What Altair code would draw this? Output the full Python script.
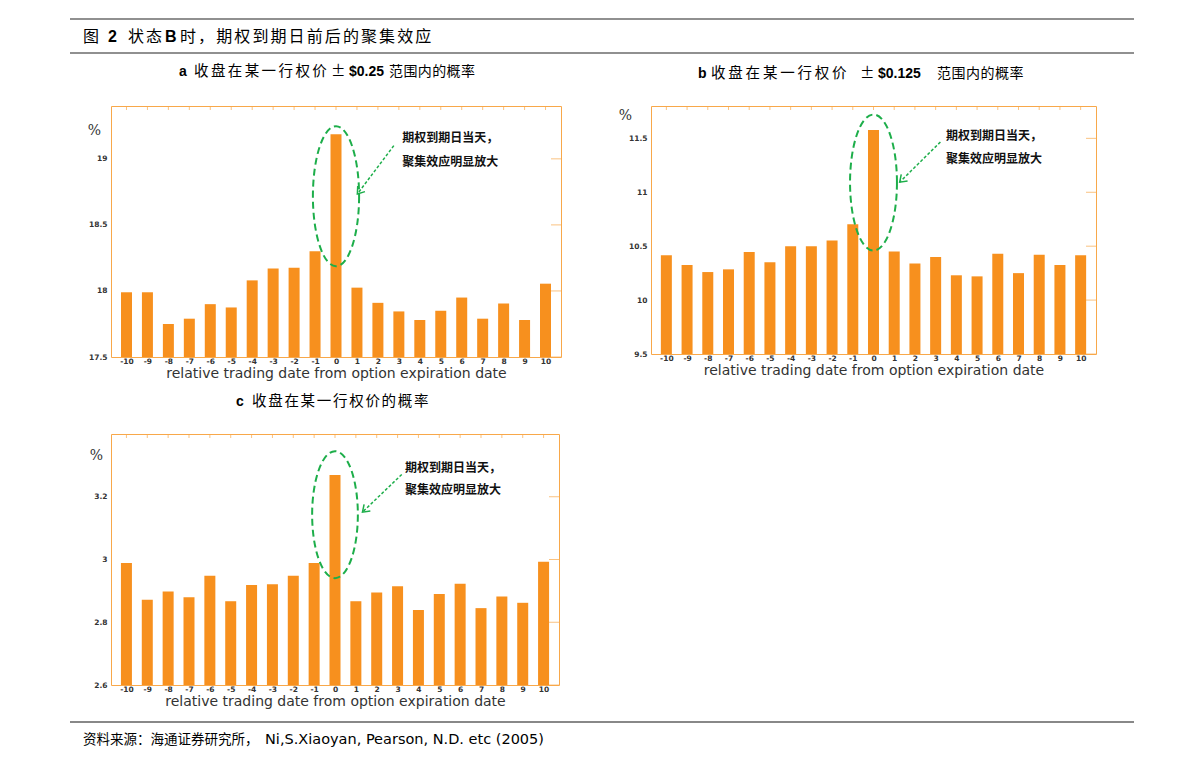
import altair as alt
import pandas as pd

# ---------------- data ----------------
days = list(range(-10, 11))
prob_a = [17.99, 17.99, 17.75, 17.79, 17.90, 17.875, 18.08, 18.17, 18.175, 18.30, 19.186,
          18.025, 17.91, 17.845, 17.78, 17.85, 17.95, 17.79, 17.905, 17.78, 18.055]
prob_b = [10.416, 10.325, 10.26, 10.285, 10.447, 10.35, 10.50, 10.50, 10.553, 10.704, 11.577,
          10.45, 10.34, 10.40, 10.23, 10.22, 10.43, 10.25, 10.42, 10.325, 10.416]
prob_c = [2.989, 2.872, 2.898, 2.88, 2.948, 2.867, 2.919, 2.921, 2.948, 2.989, 3.269,
          2.867, 2.895, 2.915, 2.839, 2.89, 2.923, 2.845, 2.882, 2.862, 2.993]
ticks_a = [17.5, 18, 18.5, 19]
ticks_b = [9.5, 10, 10.5, 11, 11.5]
ticks_c = [2.6, 2.8, 3.0, 3.2]
domain_a = [17.5, 19.4]
domain_b = [9.5, 11.8]
domain_c = [2.6, 3.4]
ANNOT = ["期权到期日当天，", "聚集效应明显放大"]
XTITLE = "relative trading date from option expiration date"

# ---------------- styles ----------------
ORANGE = "#F7901E"
FRAME = "#F8A84A"
GREEN = "#1DAE4A"
LATIN = "Liberation Sans"
WIDE = "DejaVu Sans"
CJK = "Noto Sans CJK SC"
CHEVRON = "M -1,-0.7 L 0,0 L -1,0.7"


def ellipse_path(r):
    k = 0.5523
    return (f"M {r},0 C {r},{k} {k*r:.4f},1 0,1 C {-k*r:.4f},1 {-r},{k} {-r},0 "
            f"C {-r},{-k} {-k*r:.4f},-1 0,-1 C {k*r:.4f},-1 {r},{-k} {r},0 Z")


def label(s, x, y, size, bold=False, font=CJK, color="#000", align="left"):
    return alt.Chart(alt.Data(values=[{}])).mark_text(
        align=align, baseline="middle", font=font, fontSize=size,
        fontWeight="bold" if bold else "normal", color=color
    ).encode(x=alt.value(x), y=alt.value(y), text=alt.value(s))


def spaced(s, x0, pitch, y, size, bold=False, font=CJK):
    return [label(ch, x0 + i * pitch, y, size, bold, font) for i, ch in enumerate(s)]


def hline(x1, x2, y, color, width):
    return alt.Chart(alt.Data(values=[{}])).mark_rule(color=color, strokeWidth=width).encode(
        x=alt.value(x1), x2=alt.value(x2), y=alt.value(y))


def panel(vals, dom, ticks, w, h, ell, ann, arrow, ang, pct, extra):
    df = pd.DataFrame({"day": days, "p": vals})
    xs = alt.Scale(domain=[-10.5, 10.5], nice=False, zero=False)
    ys = alt.Scale(domain=dom, nice=False, zero=False)
    xaxis = alt.Axis(values=days, labelExpr="datum.value", title=XTITLE, ticks=False,
                     domain=False, grid=False,
                     labelFlush=False, labelOverlap=False, labelFont=WIDE, labelFontSize=7.5,
                     labelFontWeight="bold", labelColor="#333", labelPadding=0,
                     titleFont=WIDE, titleFontSize=14, titleFontWeight="normal",
                     titleColor="#333", titlePadding=2)
    yaxis = alt.Axis(values=ticks, format="~f", title="%", ticks=False, domain=False, grid=False,
                     labelFlush=False, labelOverlap=False, labelFont=WIDE, labelFontSize=7.5,
                     labelFontWeight="bold", labelColor="#333", labelPadding=4,
                     titleFont="DejaVu Serif", titleFontSize=14, titleFontWeight="normal",
                     titleColor="#333", titleAngle=0, titleX=pct[0], titleY=pct[1],
                     titleAlign="center", titleBaseline="middle")

    def X(f):
        return alt.X(f, scale=xs, axis=xaxis, title=XTITLE)

    def Y(f):
        return alt.Y(f, scale=ys, axis=yaxis, title="%")

    bars = alt.Chart(df).mark_bar(size=11, color=ORANGE, orient="vertical").encode(
        x=X("day:Q"), y=Y("p:Q"), y2="base:Q").transform_calculate(base=str(dom[0]))
    top_df = pd.DataFrame({"day": days, "top": [dom[1]] * len(days)})
    top_ticks = alt.Chart(top_df).mark_tick(orient="vertical", size=8, thickness=1,
                                            color=FRAME, clip=True).encode(
        x=X("day:Q"), y=Y("top:Q"))
    right_df = pd.DataFrame({"p": ticks, "edge": [10.5] * len(ticks)})
    right_ticks = alt.Chart(right_df).mark_tick(
        orient="horizontal", size=10, thickness=1, color=FRAME, clip=True).encode(
        y=Y("p:Q"), x=X("edge:Q"))
    ellipse = alt.Chart(pd.DataFrame({"day": [0], "p": [ell[0]]})).mark_point(
        shape=ellipse_path(ell[2]), size=ell[1] ** 2, filled=False, stroke=GREEN,
        strokeWidth=2, strokeDash=[7, 4], opacity=1).encode(x=X("day:Q"), y=Y("p:Q"))
    ann_df = pd.DataFrame({"day": [ann[0], ann[0]], "p": [ann[1], ann[2]], "t": ANNOT})
    text = alt.Chart(ann_df).mark_text(align="left", baseline="middle", font=CJK,
                                        fontSize=12, fontWeight="bold", color="#111").encode(
        x=X("day:Q"), y=Y("p:Q"), text="t:N")
    arr_df = pd.DataFrame({"day": [arrow[0]], "p": [arrow[1]],
                           "day2": [arrow[2]], "p2": [arrow[3]]})
    line = alt.Chart(arr_df).mark_rule(color=GREEN, strokeWidth=1.5, strokeDash=[3, 2]).encode(
        x=X("day:Q"), y=Y("p:Q"), x2="day2:Q", y2="p2:Q")
    head = alt.Chart(arr_df).mark_point(shape=CHEVRON, angle=ang, size=170, filled=False,
                                         stroke=GREEN, strokeWidth=1.5, opacity=1).encode(
        x=X("day2:Q"), y=Y("p2:Q"))
    return alt.layer(bars, top_ticks, right_ticks, ellipse, line, head, text, *extra).properties(
        width=w, height=h)


header = [
    hline(-41, 1023, -87, "#222", 1.2),
    hline(-41, 1023, -53, "#222", 1.2),
    label("图", -28, -69, 16),
    label("2", -3, -69, 16, bold=True, font=LATIN),
    *spaced("状态", 17, 18, -69, 16),
    label("B", 54, -69, 16, bold=True, font=LATIN),
    *spaced("时，期权到期日前后的聚集效应", 69, 18.1, -69, 16),
    label("a", 68, -34, 14, bold=True, font=LATIN),
    *spaced("收盘在某一行权价", 83, 16.9, -34, 14.5),
    label("±", 220, -34, 14.5),
    label("$0.25", 238, -34, 14, bold=True, font=LATIN),
    *spaced("范围内的概率", 278, 14.4, -34, 14),
]
sub_b = [
    label("b", 47, -32, 14, bold=True, font=LATIN),
    *spaced("收盘在某一行权价", 60, 17.3, -32, 14.5),
    label("±", 209, -32, 14.5),
    label("$0.125", 227, -32, 14, bold=True, font=LATIN),
    *spaced("范围内的概率", 286, 14.5, -32, 14),
]
sub_c_footer = [
    label("c", 125, -32, 14, bold=True, font=LATIN),
    *spaced("收盘在某一行权价的概率", 141, 16.2, -32, 14.5),
    hline(-41, 1023, 288, "#888", 2),
    label("资料来源：海通证券研究所，", -28, 306, 13.5),
    label("Ni,S.Xiaoyan, Pearson, N.D. etc (2005)", 154, 306, 14.5, font=WIDE),
]

pa = panel(prob_a, domain_a, ticks_a, 450, 251,
           ell=(18.717, 140, 0.33), ann=(3.16, 19.155, 18.975),
           arrow=(2.76, 19.10, 1.02, 18.734), ang=127.6, pct=(-17, 24), extra=header)
pb = panel(prob_b, domain_b, ticks_b, 445, 248,
           ell=(11.09, 136, 0.345), ann=(3.5, 11.525, 11.31),
           arrow=(3.23, 11.466, 1.265, 11.094), ang=136.2, pct=(-26, 9), extra=sub_b)
pc = panel(prob_c, domain_c, ticks_c, 448, 251,
           ell=(3.143, 127, 0.36), ann=(3.36, 3.292, 3.223),
           arrow=(3.2, 3.271, 1.317, 3.151), ang=136.8, pct=(-15, 21), extra=sub_c_footer)

chart = alt.concat(pa, pb, pc, columns=2, spacing={"row": 77, "column": 90},
                   bounds="flush").properties(
    padding={"left": 68, "top": 17, "right": 5, "bottom": 5},
    background="white",
).configure_view(stroke=FRAME, strokeWidth=1).configure_axis(labelOverlap=False)

chart.save("out.html", embed_options={"renderer": "svg", "actions": False})
